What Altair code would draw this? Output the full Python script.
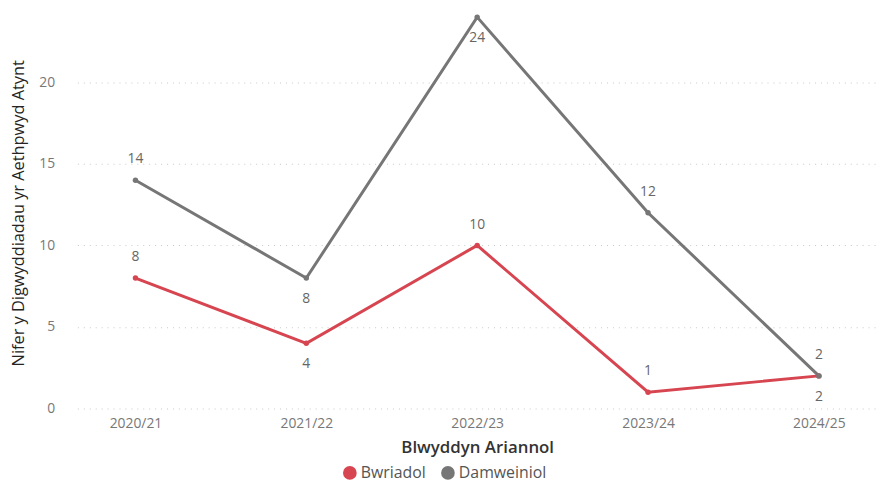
import altair as alt
import pandas as pd

years = ["2020/21", "2021/22", "2022/23", "2023/24", "2024/25"]
bwriadol = [8, 4, 10, 1, 2]
damweiniol = [14, 8, 24, 12, 2]
bwriadol_pos = ["above", "below", "above", "above", "below"]
damweiniol_pos = ["above", "below", "below", "above", "above"]

series_names = ["Bwriadol", "Damweiniol"]
colors = ["#D64550", "#767676"]

rows = []
for name, vals, pos in [("Bwriadol", bwriadol, bwriadol_pos), ("Damweiniol", damweiniol, damweiniol_pos)]:
    for y, v, p in zip(years, vals, pos):
        rows.append({"year": y, "value": v, "series": name, "pos": p})
df = pd.DataFrame(rows)

font = "Open Sans"

x = alt.X("year:N", sort=years, title="Blwyddyn Ariannol",
          scale=alt.Scale(type="point", padding=0.34),
          axis=alt.Axis(labelAngle=0, labelColor="#777777", labelFontSize=14, labelFont=font,
                        titleFont=font, titleFontSize=17, titleFontWeight=600, titleColor="#333333",
                        domain=False, ticks=False, labelPadding=8, titlePadding=9))
y = alt.Y("value:Q", title="Nifer y Digwyddiadau yr Aethpwyd Atynt",
          scale=alt.Scale(domain=[0, 24], nice=False),
          axis=alt.Axis(values=[0, 5, 10, 15, 20], labelColor="#777777", labelFontSize=14, labelFont=font,
                        titleFont=font, titleFontSize=16.5, titleFontWeight="normal", titleColor="#252423",
                        domain=False, ticks=False, labelPadding=23, titlePadding=12,
                        grid=True, gridDash=[1, 5], gridColor="#C8C8C8", gridWidth=1.2))
color = alt.Color("series:N", scale=alt.Scale(domain=series_names, range=colors),
                  legend=alt.Legend(orient="none", legendX=267, legendY=452, direction="horizontal",
                                    title=None, symbolType="circle", symbolSize=190,
                                    symbolOpacity=1, labelFont=font, labelFontSize=16, labelColor="#555555",
                                    columnPadding=14, labelOffset=3, symbolStrokeWidth=0))

base = alt.Chart(df)
lines = base.mark_line(strokeWidth=3).encode(x=x, y=y, color=color)
pts = base.mark_point(filled=True, size=30, opacity=1).encode(
    x=x, y=y, color=alt.Color("series:N", scale=alt.Scale(domain=series_names, range=colors), legend=None))
above = base.transform_filter(alt.datum.pos == "above").mark_text(
    dy=-21, font=font, fontSize=14, color="#666666").encode(x=x, y=y, text="value:Q")
below = base.transform_filter(alt.datum.pos == "below").mark_text(
    dy=21, font=font, fontSize=14, color="#666666").encode(x=x, y=y, text="value:Q")

chart = (lines + pts + above + below).properties(
    width=807, height=395,
    autosize=alt.AutoSizeParams(type="none"),
    padding={"left": 70, "top": 7, "right": 0, "bottom": 74},
).configure_view(strokeWidth=0, stroke=None)

chart.save("out.html", embed_options={"renderer": "svg", "actions": False})
